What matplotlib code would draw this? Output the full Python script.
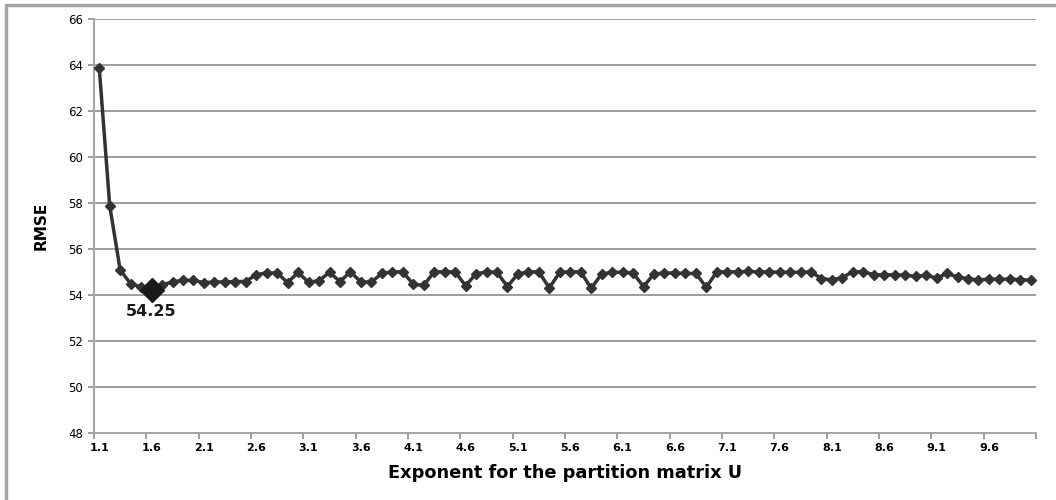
import matplotlib.pyplot as plt
from matplotlib.patches import Rectangle

# exponent m for the partition matrix U, 1.1 .. 10.0
EXPONENTS = [round(1.1 + 0.1 * k, 1) for k in range(90)]
RMSE = [
    63.9, 57.9, 55.1, 54.5, 54.36, 54.25, 54.45, 54.58, 54.65, 54.65,
    54.55, 54.58, 54.58, 54.6, 54.6, 54.9, 54.97, 54.97, 54.55, 55.0,
    54.56, 54.64, 55.0, 54.6, 55.02, 54.58, 54.58, 54.95, 55.02, 55.02,
    54.48, 54.43, 55.02, 55.02, 55.02, 54.42, 54.93, 55.02, 55.0, 54.38,
    54.93, 55.02, 55.02, 54.32, 55.0, 55.02, 55.02, 54.3, 54.93, 55.0,
    55.0, 54.97, 54.38, 54.93, 54.97, 54.97, 54.95, 54.95, 54.35, 55.02,
    55.02, 55.02, 55.04, 55.02, 55.02, 55.0, 55.0, 55.0, 55.02, 54.73,
    54.67, 54.77, 55.03, 55.02, 54.9, 54.88, 54.9, 54.87, 54.82, 54.87,
    54.75, 54.95, 54.8, 54.72, 54.67, 54.7, 54.7, 54.7, 54.68, 54.66,
]
BEST_LABEL = "54.25"
Y_TICKS = list(range(48, 67, 2))

plt.rcParams["font.family"] = ["DejaVu Sans"]

fig = plt.figure(figsize=(10.56, 5.0), dpi=100)
ax = fig.add_axes([94 / 1056, 1 - 433.3 / 500, (1036 - 94) / 1056, (433.3 - 19.3) / 500])

# outer chart frame (left and top edges visible)
fig.patches.append(
    Rectangle((6 / 1056, -0.2), 1.2, 1.2 - 5 / 500, transform=fig.transFigure,
              fill=False, edgecolor="#a6a6a6", linewidth=2.5)
)

x = list(range(len(RMSE)))
ax.plot(x, RMSE, color="#333333", linewidth=2.5, marker="D", markersize=5.2,
        markerfacecolor="#333333", markeredgecolor="#333333", zorder=3)

best = min(range(len(RMSE)), key=lambda i: RMSE[i])
ax.plot([best], [RMSE[best]], marker="D", markersize=12.5, color="#1a1a1a", zorder=4)
ax.annotate(BEST_LABEL, (best, RMSE[best]), xytext=(0, -16), textcoords="offset points",
            ha="center", va="center", fontsize=11.5, fontweight="bold", color="#1a1a1a")

ax.set_xlim(-0.5, len(RMSE) - 0.5)
ax.set_ylim(48, 66)
ax.set_yticks(Y_TICKS)
ax.set_yticklabels([str(v) for v in Y_TICKS], fontsize=8.5)
ax.yaxis.grid(True, color="#8c8c8c", linewidth=1.2)
ax.set_axisbelow(True)

# ticks at category boundaries, labels at category centres
ax.set_xticks([k - 0.5 for k in range(0, len(RMSE) + 1, 5)])
ax.set_xticklabels([])
ax.set_xticks(x[::5], minor=True)
ax.set_xticklabels([f"{e:.1f}" for e in EXPONENTS[::5]], minor=True, fontsize=8,
                   fontweight="bold")
ax.tick_params(axis="x", which="major", length=4, color="#8c8c8c", width=1.2)
ax.tick_params(axis="x", which="minor", length=0, pad=7)
ax.tick_params(axis="y", length=4, color="#8c8c8c", width=1.2, pad=4)

for side in ("top", "right"):
    ax.spines[side].set_visible(False)
for side in ("left", "bottom"):
    ax.spines[side].set_color("#a6a6a6")
    ax.spines[side].set_linewidth(1.5)

ax.set_xlabel("Exponent for the partition matrix U", fontsize=12.8, fontweight="bold",
              labelpad=8)
ax.set_ylabel("RMSE", fontsize=11, fontweight="bold", labelpad=14)

fig.savefig("out.png", dpi=100)
